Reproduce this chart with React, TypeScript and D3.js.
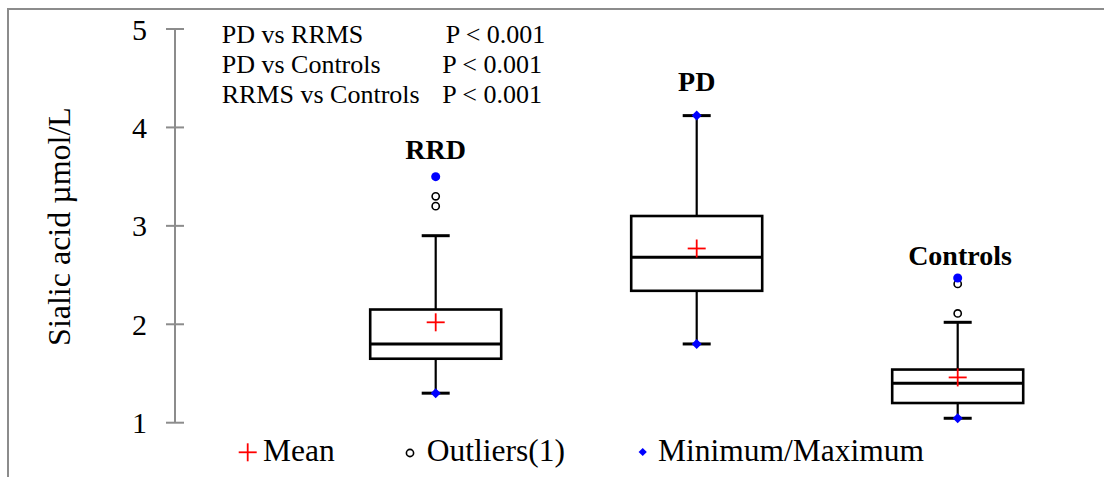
import React from "react";
import * as d3 from "d3";

const groups = ["RRD", "PD", "Controls"];
const q1 = [1.65, 2.34, 1.2];
const medians = [1.8, 2.68, 1.4];
const q3 = [2.15, 3.1, 1.54];
const means = [2.02, 2.77, 1.46];
const whiskerLow = [1.3, 1.8, 1.045];
const whiskerHigh = [2.9, 4.12, 2.02];
const minimums = [1.3, 1.8, 1.045];
const maximums = [3.5, 4.12, 2.47];
const outliers = [[3.3, 3.2], [], [2.11, 2.41]];
const yTicks = [1, 2, 3, 4, 5];
const testLabels = ["PD vs RRMS", "PD vs Controls", "RRMS vs Controls"];
const testPValues = ["P < 0.001", "P < 0.001", "P < 0.001"];
const yTitle = "Sialic acid µmol/L";

const FONT = '"Liberation Serif", "Times New Roman", serif';
const W = 1104;
const H = 477;

export default function App() {
  const y = d3.scaleLinear().domain([1, 5]).range([422.7, 29]);
  const x = d3.scalePoint<string>().domain(groups).range([435.7, 957.7]);
  const boxW = 131;
  const capW = 28;
  const axisX = 175;
  const diamond = d3.symbol().type(d3.symbolSquare).size(50)();
  const legendDiamond = d3.symbol().type(d3.symbolSquare).size(34)();
  const pX = [445.7, 442.3, 442.3];

  return (
    <svg
      width={W}
      height={H}
      style={{ position: "absolute", left: 0, top: 0, background: "#fff" }}
      fontFamily={FONT}
    >
      <rect x={0} y={0} width={W} height={H} fill="#fff" />
      {/* frame */}
      <line x1={8} y1={9} x2={W} y2={9} stroke="#8c8c8c" strokeWidth={2} />
      <line x1={8} y1={8} x2={8} y2={H} stroke="#8c8c8c" strokeWidth={2} />

      {/* y axis */}
      <line x1={axisX} y1={y(5)} x2={axisX} y2={y(1)} stroke="#8c8c8c" strokeWidth={2} />
      {yTicks.map((t) => (
        <g key={t}>
          <line x1={166} x2={184} y1={y(t)} y2={y(t)} stroke="#8c8c8c" strokeWidth={2} />
          <text x={147} y={y(t)} dy="0.35em" textAnchor="end" fontSize={30} fill="#000">
            {t}
          </text>
        </g>
      ))}
      <text
        transform={`translate(70, ${226.5}) rotate(-90)`}
        textAnchor="middle"
        fontSize={32}
        fill="#000"
      >
        {yTitle}
      </text>

      {/* tests annotation */}
      {testLabels.map((t, i) => (
        <g key={t}>
          <text x={221.7} y={43.3 + i * 29.8} fontSize={26} fill="#000">
            {t}
          </text>
          <text x={pX[i]} y={43.3 + i * 29.8} fontSize={26} fill="#000">
            {testPValues[i]}
          </text>
        </g>
      ))}

      {/* boxes */}
      {groups.map((g, i) => {
        const cx = x(g) as number;
        return (
          <g key={g}>
            <line x1={cx} x2={cx} y1={y(q3[i])} y2={y(whiskerHigh[i])} stroke="#000" strokeWidth={2.2} />
            <line x1={cx} x2={cx} y1={y(q1[i])} y2={y(whiskerLow[i])} stroke="#000" strokeWidth={2.2} />
            <line x1={cx - capW / 2} x2={cx + capW / 2} y1={y(whiskerHigh[i])} y2={y(whiskerHigh[i])} stroke="#000" strokeWidth={3} />
            <line x1={cx - capW / 2} x2={cx + capW / 2} y1={y(whiskerLow[i])} y2={y(whiskerLow[i])} stroke="#000" strokeWidth={3} />
            <rect
              x={cx - boxW / 2}
              y={y(q3[i])}
              width={boxW}
              height={y(q1[i]) - y(q3[i])}
              fill="#fff"
              stroke="#000"
              strokeWidth={2.6}
            />
            <line x1={cx - boxW / 2} x2={cx + boxW / 2} y1={y(medians[i])} y2={y(medians[i])} stroke="#000" strokeWidth={3} />
            {/* mean */}
            <line x1={cx - 9} x2={cx + 9} y1={y(means[i])} y2={y(means[i])} stroke="#ff0000" strokeWidth={1.8} />
            <line x1={cx} x2={cx} y1={y(means[i]) - 9} y2={y(means[i]) + 9} stroke="#ff0000" strokeWidth={1.8} />
            {/* outliers */}
            {outliers[i].map((o, j) => (
              <circle key={j} cx={cx} cy={y(o)} r={3.6} fill="#fff" stroke="#000" strokeWidth={1.6} />
            ))}
            {/* min / max */}
            {[minimums[i], maximums[i]].map((m, j) => {
              const onWhisker = m === whiskerLow[i] || m === whiskerHigh[i];
              return onWhisker ? (
                <path key={j} d={diamond as string} transform={`translate(${cx},${y(m)}) rotate(45)`} fill="#0000ff" />
              ) : (
                <circle key={j} cx={cx} cy={y(m)} r={4.5} fill="#0000ff" />
              );
            })}
          </g>
        );
      })}

      {/* group labels */}
      <text x={x("RRD")} y={159.3} textAnchor="middle" fontSize={28} fontWeight="bold" fill="#000">
        {groups[0]}
      </text>
      <text x={x("PD")} y={90.7} textAnchor="middle" fontSize={28} fontWeight="bold" fill="#000">
        {groups[1]}
      </text>
      <text x={960} y={265} textAnchor="middle" fontSize={28} fontWeight="bold" fill="#000">
        {groups[2]}
      </text>

      {/* legend */}
      <g>
        <line x1={238.7} x2={256.7} y1={452.3} y2={452.3} stroke="#ff0000" strokeWidth={1.8} />
        <line x1={247.7} x2={247.7} y1={443.3} y2={461.3} stroke="#ff0000" strokeWidth={1.8} />
        <text x={263} y={461.3} fontSize={31.5} fill="#000">Mean</text>
        <circle cx={410} cy={453} r={3.6} fill="#fff" stroke="#000" strokeWidth={1.6} />
        <text x={426.7} y={461.3} fontSize={31.5} fill="#000">Outliers(1)</text>
        <path d={legendDiamond as string} transform="translate(642.7,452) rotate(45)" fill="#0000ff" />
        <text x={658} y={461.3} fontSize={31.5} fill="#000">Minimum/Maximum</text>
      </g>
    </svg>
  );
}
